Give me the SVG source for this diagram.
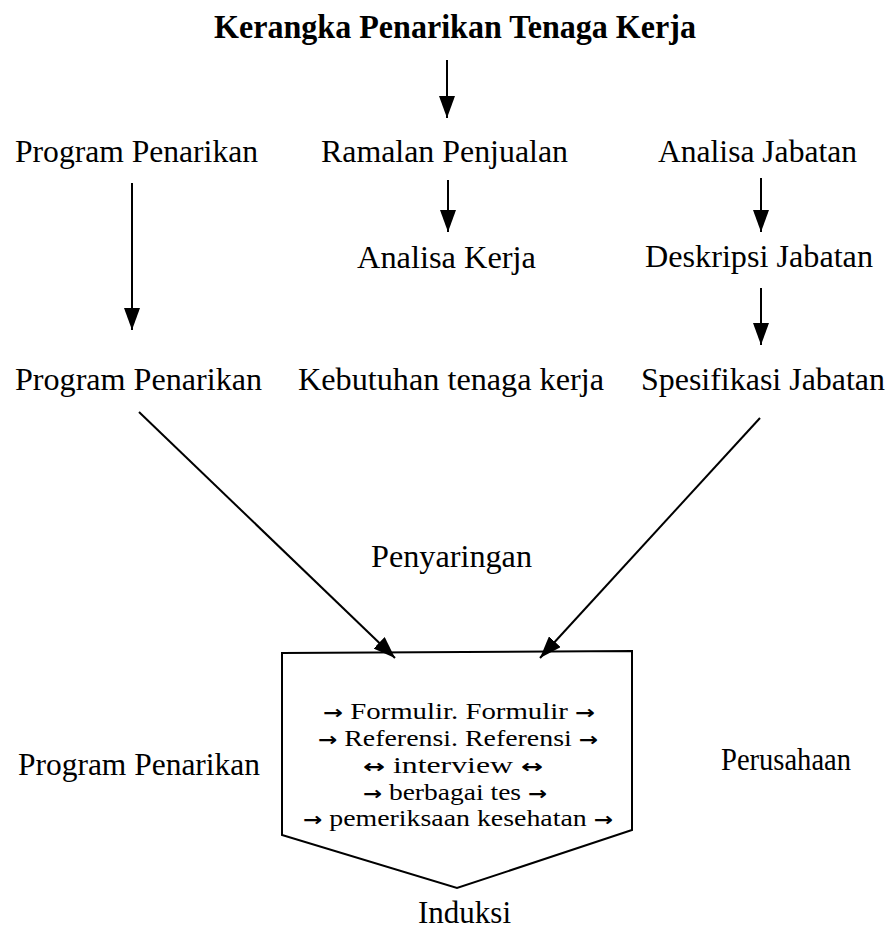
<svg xmlns="http://www.w3.org/2000/svg" width="890" height="936" viewBox="0 0 890 936">
<style>
text{font-family:"Liberation Serif","Times New Roman",serif;fill:#000}
.t{font-size:33px;font-weight:bold}
.n{font-size:32px}
.b{font-size:23px}
.a{font-family:"DejaVu Sans",sans-serif;font-size:19px;font-weight:bold}
.c{stroke:#000;stroke-width:2;fill:none}
</style>
<defs>
<marker id="ah" viewBox="0 0 22 16" refX="22" refY="8" markerWidth="22" markerHeight="16" markerUnits="userSpaceOnUse" orient="auto">
<path d="M0,0 L22,8 L0,16 z" fill="#000"/>
</marker>
</defs>
<rect width="890" height="936" fill="#fff"/>
<g id="title"><text class="t" x="214" y="38" textLength="482" lengthAdjust="spacingAndGlyphs">Kerangka Penarikan Tenaga Kerja</text></g>
<g id="n-program1"><text class="n" x="15" y="162" textLength="243" lengthAdjust="spacingAndGlyphs">Program Penarikan</text></g>
<g id="n-ramalan"><text class="n" x="321" y="162" textLength="247" lengthAdjust="spacingAndGlyphs">Ramalan Penjualan</text></g>
<g id="n-analisajab"><text class="n" x="658" y="162" textLength="199" lengthAdjust="spacingAndGlyphs">Analisa Jabatan</text></g>
<g id="n-analisakerja"><text class="n" x="357" y="268" textLength="179" lengthAdjust="spacingAndGlyphs">Analisa Kerja</text></g>
<g id="n-deskripsi"><text class="n" x="645" y="267" textLength="228" lengthAdjust="spacingAndGlyphs">Deskripsi Jabatan</text></g>
<g id="n-program2"><text class="n" x="15" y="390" textLength="247" lengthAdjust="spacingAndGlyphs">Program Penarikan</text></g>
<g id="n-kebutuhan"><text class="n" x="298" y="390" textLength="306" lengthAdjust="spacingAndGlyphs">Kebutuhan tenaga kerja</text></g>
<g id="n-spesifikasi"><text class="n" x="641" y="390" textLength="244" lengthAdjust="spacingAndGlyphs">Spesifikasi Jabatan</text></g>
<g id="n-penyaringan"><text class="n" x="371" y="567" textLength="161" lengthAdjust="spacingAndGlyphs">Penyaringan</text></g>
<g id="n-program3"><text class="n" x="18" y="775" textLength="242" lengthAdjust="spacingAndGlyphs">Program Penarikan</text></g>
<g id="n-perusahaan"><text class="n" x="721" y="770" textLength="130" lengthAdjust="spacingAndGlyphs">Perusahaan</text></g>
<g id="n-induksi"><text class="n" x="418" y="923" textLength="93" lengthAdjust="spacingAndGlyphs">Induksi</text></g>
<g id="n-seleksi">
<path d="M282,653 L632,651 L632,830 L457,888 L282,835 Z" class="c"/>
<text class="b" x="323" y="719" textLength="272" lengthAdjust="spacingAndGlyphs"><tspan class="a">→</tspan> Formulir. Formulir <tspan class="a">→</tspan></text>
<text class="b" x="318" y="746" textLength="280" lengthAdjust="spacingAndGlyphs"><tspan class="a">→</tspan> Referensi. Referensi <tspan class="a">→</tspan></text>
<text class="b" x="363" y="773" textLength="180" lengthAdjust="spacingAndGlyphs"><tspan class="a">↔</tspan> interview <tspan class="a">↔</tspan></text>
<text class="b" x="363" y="800" textLength="184" lengthAdjust="spacingAndGlyphs"><tspan class="a">→</tspan> berbagai tes <tspan class="a">→</tspan></text>
<text class="b" x="303" y="826" textLength="310" lengthAdjust="spacingAndGlyphs"><tspan class="a">→</tspan> pemeriksaan kesehatan <tspan class="a">→</tspan></text>
</g>
<g id="connectors" stroke="#000" stroke-width="2" fill="none">
<line x1="447" y1="60" x2="447" y2="118" marker-end="url(#ah)"/>
<line x1="132" y1="183" x2="132" y2="330" marker-end="url(#ah)"/>
<line x1="448" y1="180" x2="448" y2="232" marker-end="url(#ah)"/>
<line x1="761" y1="178" x2="761" y2="232" marker-end="url(#ah)"/>
<line x1="761" y1="288" x2="761" y2="345" marker-end="url(#ah)"/>
<line x1="139" y1="412" x2="395" y2="658" marker-end="url(#ah)"/>
<line x1="760" y1="418" x2="540" y2="658" marker-end="url(#ah)"/>
</g>
</svg>
